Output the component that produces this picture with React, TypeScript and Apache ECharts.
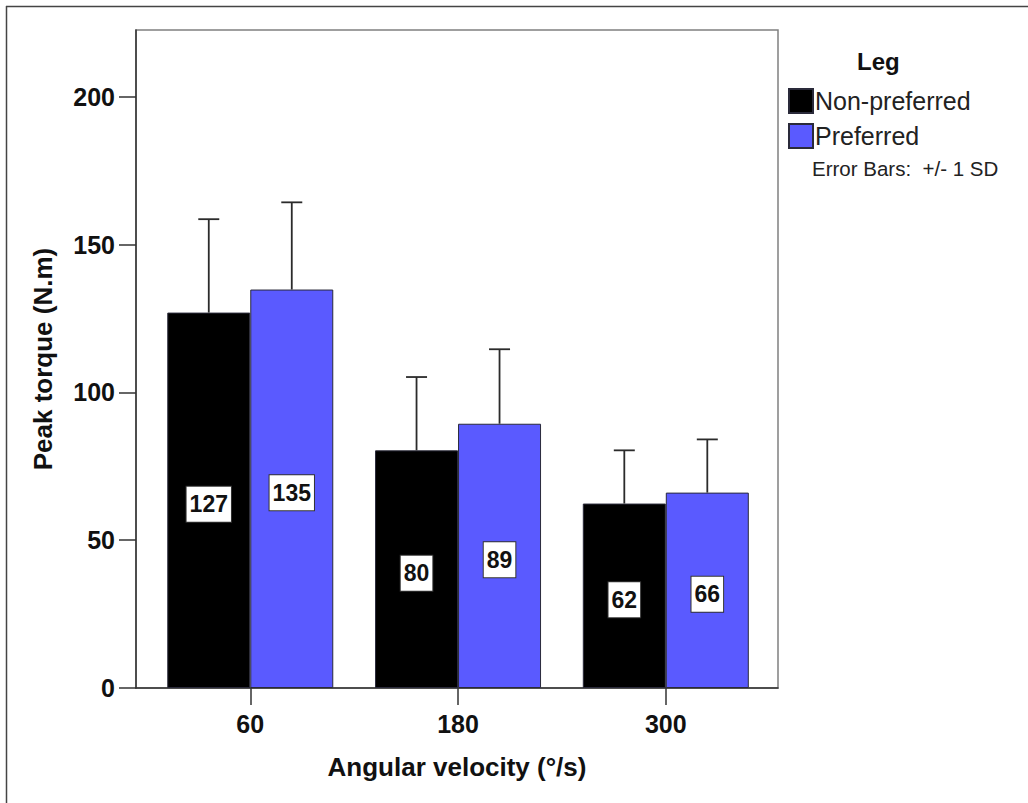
import React, { useEffect, useRef } from "react";
import * as echarts from "echarts";

const categories = ["60", "180", "300"];
const categoryPositions = [0, 1, 2];
const nonPreferredMean = [127.0, 80.4, 62.4];
const preferredMean = [134.8, 89.4, 66.1];
const nonPreferredSD = [31.6, 24.8, 18.0];
const preferredSD = [29.5, 25.2, 18.0];
const yTicks = [0, 50, 100, 150, 200];
const seriesNames = ["Non-preferred", "Preferred"];
const seriesColors = ["#000000", "#5a5aff"];

const FONT = "'Liberation Sans', Arial, sans-serif";

export default function App() {
  const ref = useRef<HTMLDivElement>(null);

  useEffect(() => {
    if (!ref.current) return;
    const chart = echarts.init(ref.current, undefined, { renderer: "svg" });

    const means = [nonPreferredMean, preferredMean];
    const sds = [nonPreferredSD, preferredSD];
    const BAR_W = 83;
    const offsets = [-BAR_W / 2, BAR_W / 2];

    const barSeries = means.map((m, si) => ({
      type: "bar",
      name: seriesNames[si],
      data: categoryPositions.map((x, i) => [x, m[i]]),
      barWidth: BAR_W,
      barGap: "0%",
      itemStyle: {
        color: seriesColors[si],
        borderColor: "#2a2a3a",
        borderWidth: 1,
      },
      label: {
        show: true,
        position: "inside",
        offset: [0, 4],
        formatter: (p: any) => String(Math.round(p.value[1])),
        fontFamily: FONT,
        fontSize: 23,
        fontWeight: "bold",
        color: "#111",
        backgroundColor: "#fff",
        borderColor: "#333",
        borderWidth: 1,
        padding: [6, 3, 5, 3],
        lineHeight: 24,
      },
      z: 2,
    }));

    const errSeries = means.map((m, si) => ({
      type: "custom",
      name: "err" + si,
      data: categoryPositions.map((x, i) => [x, m[i], m[i] + sds[si][i]]),
      encode: { x: 0, y: [1, 2] },
      z: 5,
      silent: true,
      renderItem: (params: any, api: any) => {
        const x = api.value(0);
        const base = api.coord([x, api.value(1)]);
        const top = api.coord([x, api.value(2)]);
        const cx = base[0] + offsets[si];
        const style = { stroke: "#2b2b2b", lineWidth: 1.8 };
        return {
          type: "group",
          children: [
            { type: "line", shape: { x1: cx, y1: base[1], x2: cx, y2: top[1] }, style },
            { type: "line", shape: { x1: cx - 10.5, y1: top[1], x2: cx + 10.5, y2: top[1] }, style },
          ],
        };
      },
    }));

    chart.setOption({
      animation: false,
      backgroundColor: "#ffffff",
      textStyle: { fontFamily: FONT },
      title: {
        text: "Leg",
        left: 852,
        top: 44,
        textStyle: { fontFamily: FONT, fontSize: 24, fontWeight: "bold", color: "#111" },
      },
      legend: {
        orient: "vertical",
        left: 783,
        top: 83,
        itemWidth: 24,
        itemHeight: 24,
        itemGap: 9,
        icon: "rect",
        data: seriesNames,
        textStyle: { fontFamily: FONT, fontSize: 25, color: "#222", padding: [0, 0, 0, -3] },
      },
      grid: {
        left: 136,
        top: 30,
        width: 642,
        height: 658,
        show: true,
        borderColor: "#808080",
        borderWidth: 1.5,
        backgroundColor: "transparent",
      },
      xAxis: {
        type: "value",
        min: -0.55,
        max: 2.54,
        name: "Angular velocity (°/s)",
        nameLocation: "middle",
        nameGap: 66,
        nameTextStyle: { fontFamily: FONT, fontSize: 26, fontWeight: "bold", color: "#111" },
        splitLine: { show: false },
        axisLine: { show: true, onZero: false, lineStyle: { color: "#333", width: 1.5 } },
        axisTick: {
          show: true,
          length: 17,
          customValues: categoryPositions,
          lineStyle: { color: "#333", width: 1.5 },
        },
        axisLabel: {
          customValues: categoryPositions,
          formatter: (v: number) => categories[Math.round(v)] ?? "",
          margin: 23,
          fontFamily: FONT,
          fontSize: 25,
          fontWeight: "bold",
          color: "#111",
        },
      },
      yAxis: {
        type: "value",
        min: 0,
        max: 222.6,
        name: "Peak torque (N.m)",
        nameLocation: "middle",
        nameGap: 80,
        nameTextStyle: { fontFamily: FONT, fontSize: 26, fontWeight: "bold", color: "#111" },
        splitLine: { show: false },
        axisLine: { show: true, onZero: false, lineStyle: { color: "#333", width: 1.5 } },
        axisTick: {
          show: true,
          length: 17,
          customValues: yTicks,
          lineStyle: { color: "#333", width: 1.5 },
        },
        axisLabel: {
          customValues: yTicks,
          formatter: (v: number) => String(Math.round(v)),
          margin: 21,
          fontFamily: FONT,
          fontSize: 25,
          fontWeight: "bold",
          color: "#111",
        },
      },
      graphic: [
        {
          type: "line",
          shape: { x1: 6, y1: 6.5, x2: 1028, y2: 6.5 },
          style: { stroke: "#444", lineWidth: 1.5 },
          silent: true,
        },
        {
          type: "line",
          shape: { x1: 6.5, y1: 6, x2: 6.5, y2: 803 },
          style: { stroke: "#444", lineWidth: 1.5 },
          silent: true,
        },
        {
          type: "text",
          left: 812,
          top: 158,
          style: {
            text: "Error Bars:  +/- 1 SD",
            fontFamily: FONT,
            fontSize: 20.5,
            fill: "#222",
          },
          silent: true,
        },
      ],
      series: [...barSeries, ...errSeries],
    });

    return () => chart.dispose();
  }, []);

  return (
    <div
      ref={ref}
      style={{ position: "absolute", left: 0, top: 0, width: 1028, height: 803, background: "#fff" }}
    />
  );
}
